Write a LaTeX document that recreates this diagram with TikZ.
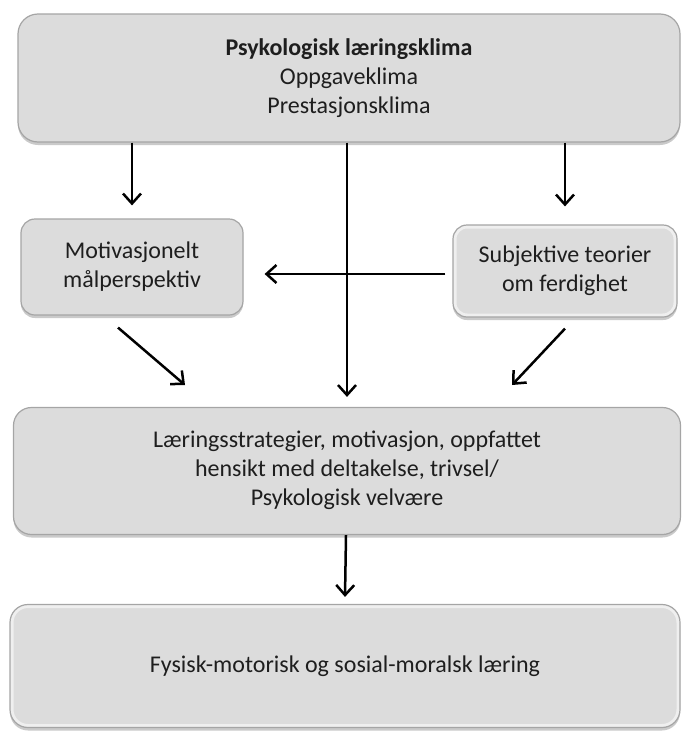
\documentclass[tikz,border=0pt]{standalone}
\usepackage{fontspec}
\setmainfont{Carlito}
\usetikzlibrary{arrows.meta,shadows,calc}
\definecolor{boxfill}{RGB}{220,220,220}
\definecolor{boxline}{RGB}{165,165,165}
\definecolor{txt}{RGB}{30,30,30}
\begin{document}
\begin{tikzpicture}[x=1pt,y=-1pt,
  box/.style={rounded corners=#1, fill=boxfill, draw=boxline, line width=1.2pt,
    text=txt, font=\fontsize{24}{29}\selectfont, align=center, inner sep=0pt,
    drop shadow={shadow xshift=0pt, shadow yshift=-3pt, fill=black!60, opacity=0.35}},
  box/.default=16pt,
  bevel/.style={path picture={
    \draw[white, line width=7pt, opacity=0.55, rounded corners=#1]
      (path picture bounding box.south west) rectangle (path picture bounding box.north east);}},
  bevel/.default=16pt,
  arr/.style={line width=2.5pt, -{Straight Barb[length=10pt,width=18pt,line width=2.5pt]}}]
\useasboundingbox (0,0) rectangle (687,731);

\node[box=20pt, minimum width=662pt, minimum height=128pt] (top) at (349,78)
  {\textbf{Psykologisk læringsklima}\\Oppgaveklima\\Prestasjonsklima};
\node[box=14pt, minimum width=222pt, minimum height=96pt] (mot) at (132,267)
  {Motivasjonelt\\målperspektiv};
\node[box=14pt, bevel=14pt, minimum width=224pt, minimum height=92pt] (sub) at (565,271)
  {Subjektive teorier\\om ferdighet};
\node[box=18pt, minimum width=667pt, minimum height=127pt] (mid) at (347,471)
  {\raisebox{4pt}{\begin{tabular}{@{}c@{}}Læringsstrategier, motivasjon, oppfattet\\hensikt med deltakelse, trivsel/\\Psykologisk velvære\end{tabular}}};
\node[box=18pt, bevel=18pt, minimum width=670pt, minimum height=123pt] (bot) at (345,666)
  {\raisebox{-9pt}{Fysisk-motorisk og sosial-moralsk læring}};

\coordinate (l1) at (185,385);
\coordinate (r1) at (512,385);

\draw[arr] (top.south -| mot.north) -- ($(mot.north)+(0,-13)$);
\draw[arr] (top.south -| sub.north) -- ($(sub.north)+(0,-18)$);
\draw[arr] ($(top.south)+(-2,0)$) -- ($(top.south |- mid.north)+(-2,-10)$);
\draw[arr] ($(sub.west)+(-7,3)$) -- ($(sub.west -| mot.east)+(21,3)$);
\draw[arr] ($(mot.south)+(-14,12)$) -- (l1);
\draw[arr] ($(sub.south)+(0,11)$) -- (r1);
\draw[arr] ($(mid.south)+(-1,0)$) -- ($(bot.north)+(0,-7)$);
\end{tikzpicture}
\end{document}
